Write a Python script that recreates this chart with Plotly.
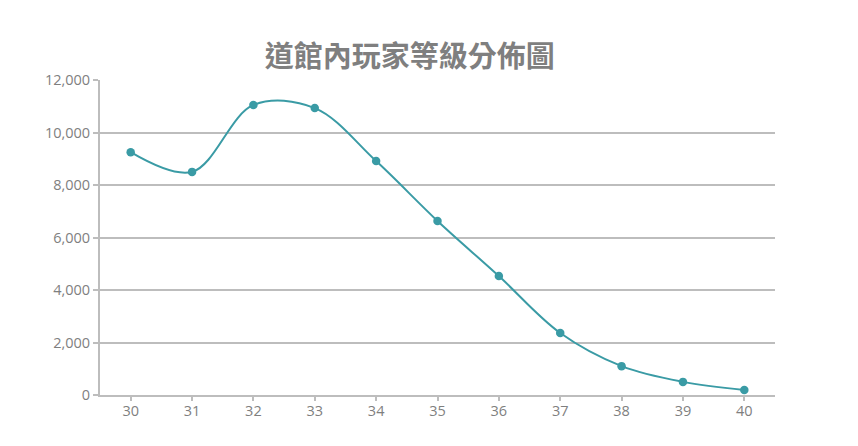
import plotly.graph_objects as go

levels = [30, 31, 32, 33, 34, 35, 36, 37, 38, 39, 40]
players = [9250, 8500, 11050, 10930, 8910, 6630, 4530, 2360, 1100, 500, 190]
y_ticks = [0, 2000, 4000, 6000, 8000, 10000, 12000]
title_text = "道館內玩家等級分佈圖"

fig = go.Figure()
fig.add_trace(go.Scatter(
    x=levels, y=players, mode="lines+markers",
    line=dict(color="#3a9ba5", width=2, shape="spline", smoothing=1.0),
    marker=dict(color="#3a9ba5", size=8.5),
    hoverinfo="x+y",
))

grid = "#bdbdbd"
tickfont = dict(family="Open Sans, Lato, sans-serif", size=14.5, color="#7f7f7f")

fig.update_layout(
    width=842, height=430,
    paper_bgcolor="white", plot_bgcolor="white",
    margin=dict(l=92, r=75, t=72, b=43),
    showlegend=False,
    title=dict(text="<b>" + title_text + "</b>", x=0.459, xref="paper", xanchor="center",
               y=0.886, yanchor="middle",
               font=dict(family="Noto Sans CJK TC, sans-serif", size=29, color="#7f7f7f")),
    xaxis=dict(range=[29.5, 40.5], tickvals=levels, ticktext=[str(v) for v in levels],
               showgrid=False, zeroline=False, showline=True, linecolor=grid, linewidth=2,
               ticks="outside", ticklen=4, tickcolor=grid, tickwidth=1.5,
               ticklabelstandoff=-2,
               tickfont=tickfont, fixedrange=True),
    yaxis=dict(range=[0, 12000], tickvals=y_ticks, tickformat=",d",
               showgrid=True, gridcolor=grid, gridwidth=2, zeroline=False,
               showline=True, linecolor=grid, linewidth=2,
               ticks="outside", ticklen=5, tickcolor=grid, tickwidth=1.5,
               tickfont=tickfont, fixedrange=True),
)

fig.write_html("out.html")
